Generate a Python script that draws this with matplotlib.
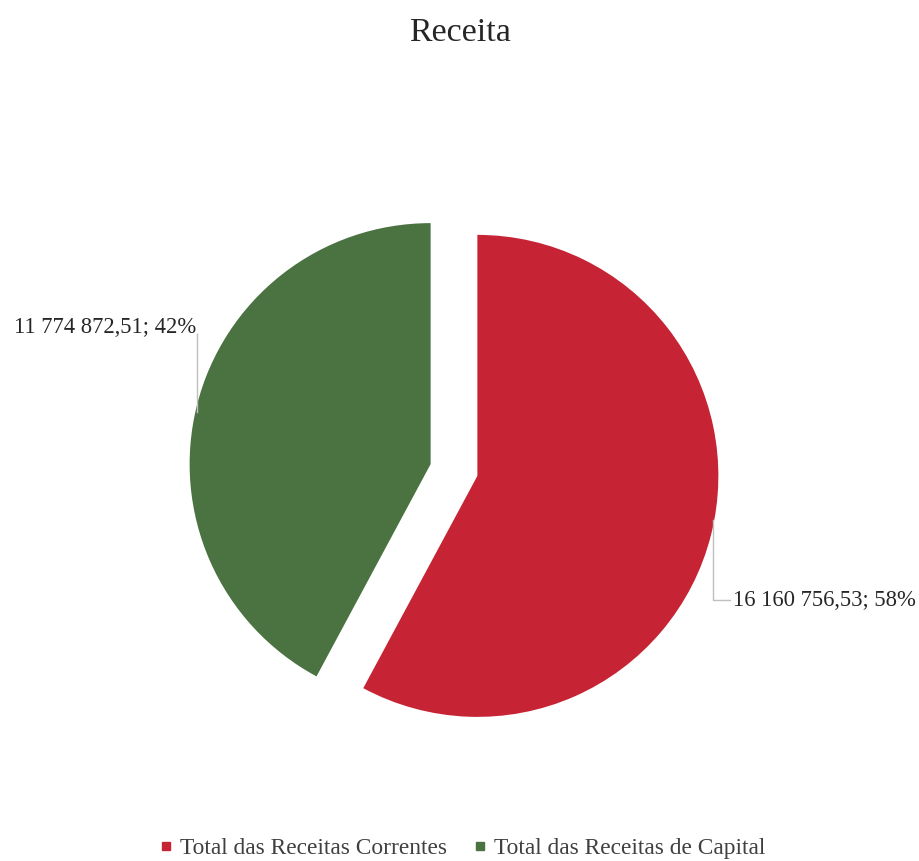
import matplotlib
matplotlib.use("Agg")
import matplotlib.pyplot as plt
from matplotlib.lines import Line2D

plt.rcParams["font.family"] = ["Liberation Serif", "DejaVu Serif"]

categories = ["Total das Receitas Correntes", "Total das Receitas de Capital"]
values = [16160756.53, 11774872.51]
value_labels = ["16 160 756,53", "11 774 872,51"]
colors = ["#C62434", "#4B7342"]

W, H = 919, 861
fig = plt.figure(figsize=(W / 100, H / 100), dpi=100)
ax = fig.add_axes([0, 0, 1, 1])

wedges, _ = ax.pie(values, colors=colors, startangle=90, counterclock=False,
                   explode=[0.1, 0.1], radius=1.0, center=(0, 0),
                   wedgeprops=dict(linewidth=0))

# pie geometry in pixels: centre and radius (limits set after pie, which resets them)
cx, cy, r = 454, 470, 241
ax.set_xlim(-cx / r, (W - cx) / r)
ax.set_ylim(-(H - cy) / r, cy / r)
ax.set_aspect("equal")
ax.axis("off")

total = sum(values)
pcts = [round(v / total * 100) for v in values]

def px(x, y):
    # pixel position -> data units
    return (x - cx) / r, (cy - y) / r

line_col = "#BFBFBF"
# red slice label (right, below)
x0, y0 = px(713, 520)
x1, y1 = px(730, 600)
ax.plot([x0, x0, x1], [y0, y1, y1], color=line_col, lw=1)
tx, ty = px(733, 600)
ax.text(tx, ty, f"{value_labels[0]}; {pcts[0]}%", ha="left", va="center",
        fontsize=16.3, color="#262626")
# green slice label (left, above)
x0, y0 = px(197, 412)
x1, y1 = px(197, 334)
ax.plot([x0, x1], [y0, y1], color=line_col, lw=1)
tx, ty = px(196, 328)
ax.text(tx, ty, f"{value_labels[1]}; {pcts[1]}%", ha="right", va="center",
        fontsize=16.3, color="#262626")

fig.text(0.5, 1 - 33 / H, "Receita", ha="center", va="center", fontsize=24.5,
         color="#262626")

handles = [Line2D([0], [0], marker="s", linestyle="none", markersize=6,
                  markerfacecolor=c, markeredgecolor=c) for c in colors]
fig.legend(handles, categories, loc="center", bbox_to_anchor=(0.503, 1 - 848 / H),
           ncol=2, frameon=False, fontsize=16.8, handlelength=0.6,
           handletextpad=0.3, columnspacing=1.1, labelcolor="#404040")

fig.savefig("out.png", dpi=100, facecolor="white")
